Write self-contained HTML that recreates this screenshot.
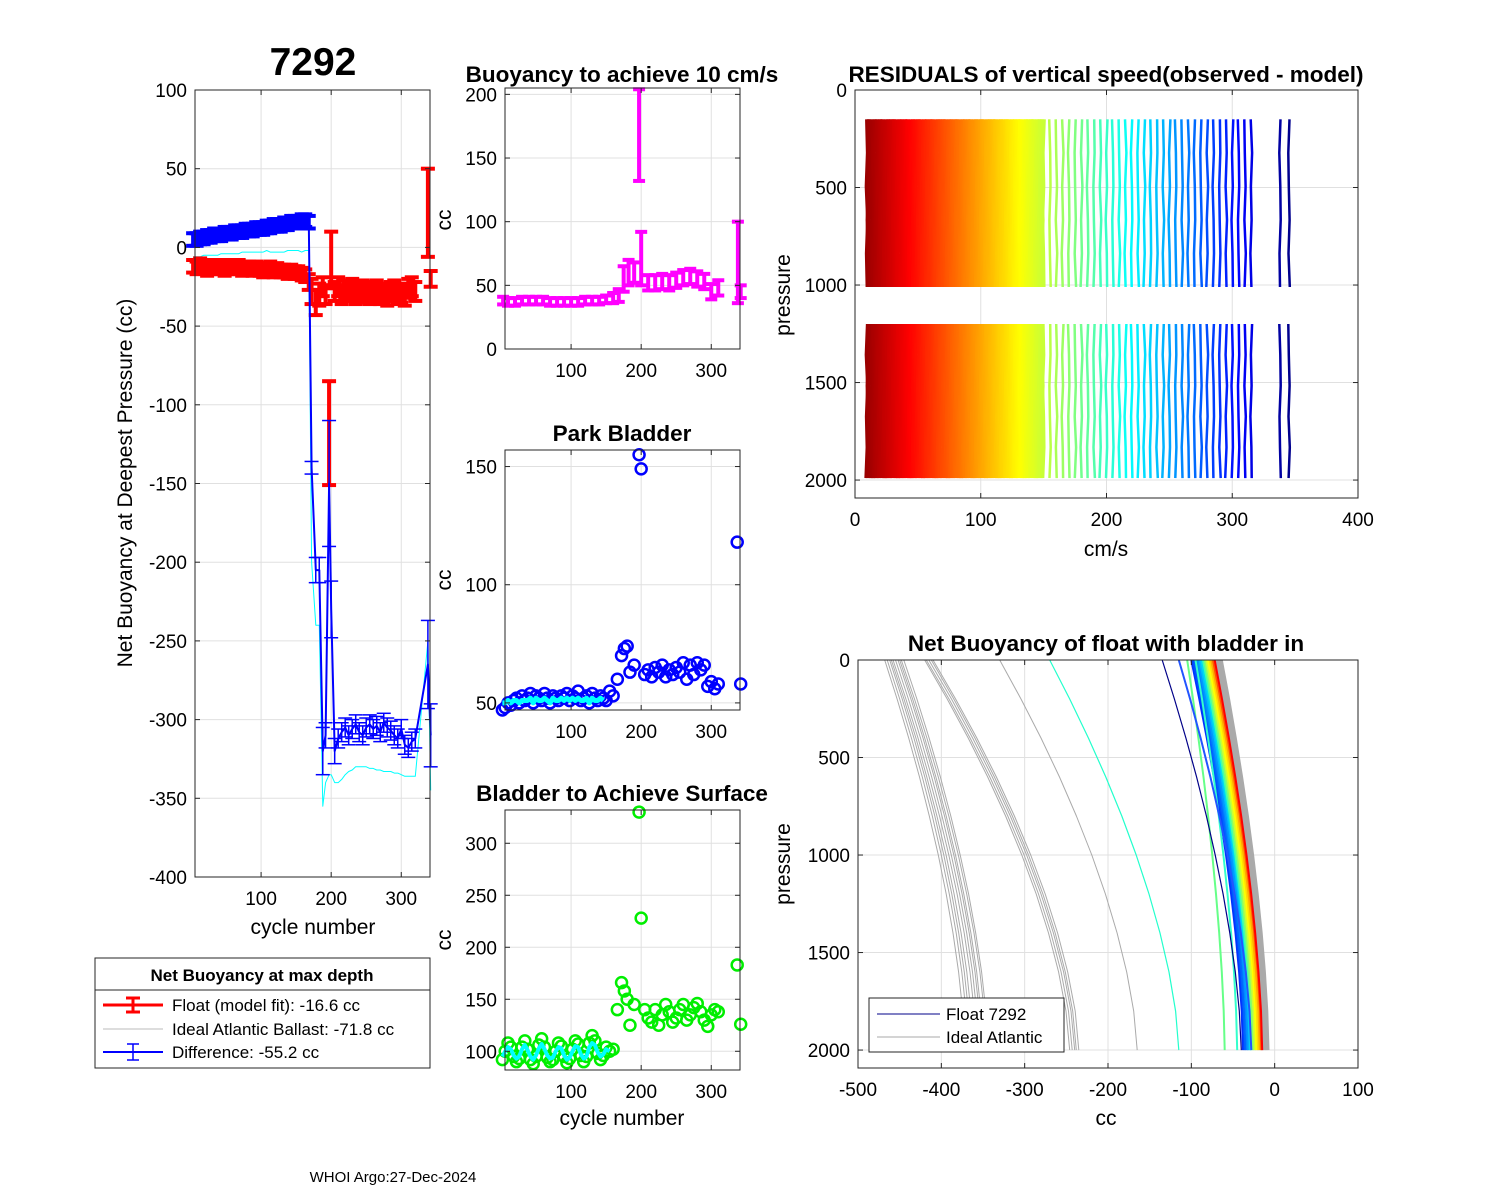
<!DOCTYPE html>
<html><head><meta charset="utf-8"><style>
body{margin:0;background:#fff;}
svg{display:block;font-family:"Liberation Sans",Arial,sans-serif;}
</style></head><body>
<svg id="s" width="1500" height="1200" viewBox="0 0 1500 1200" xmlns="http://www.w3.org/2000/svg"></svg>
<script>
// ---------- DATA ----------
const p1Cycles = [3,8,13,18,23,28,33,38,43,48,53,58,63,68,73,78,83,88,93,98,103,108,113,118,123,128,133,138,143,148,153,158,163,168,172,178,183,188,192,197,200,205,210,215,220,225,230,235,240,245,250,255,260,265,270,275,280,285,290,295,300,305,310,315,320,338,342];
const p1Float = [-12,-13,-11,-12,-14,-12,-13,-12,-13,-14,-12,-13,-13,-12,-14,-13,-13,-14,-13,-14,-15,-14,-13,-15,-14,-15,-15,-16,-15,-16,-16,-17,-18,-22,-28,-35,-30,-25,-30,-118,-8,-28,-25,-30,-27,-28,-26,-30,-28,-27,-29,-30,-28,-27,-30,-29,-31,-28,-27,-30,-29,-31,-26,-25,-28,22,-20];
const p1FloatErr = [4,4,4,4,4,4,4,4,4,4,4,4,4,4,4,4,4,4,4,4,4,4,4,4,4,4,4,4,4,4,4,4,4,5,8,8,7,6,6,33,18,6,6,6,6,6,6,6,6,6,6,6,6,6,6,6,6,6,6,6,6,6,6,6,6,28,5];
const p1Diff = [5,5,6,6,7,7,8,8,8,9,9,9,10,10,10,11,11,11,12,12,12,13,13,14,14,14,15,15,16,16,16,17,17,16,-140,-205,-205,-320,-310,-150,-230,-320,-312,-308,-305,-310,-306,-303,-308,-310,-305,-303,-306,-304,-308,-302,-305,-307,-310,-312,-306,-316,-318,-314,-312,-265,-310];
const p1DiffErr = [4,4,4,4,4,4,4,4,4,4,4,4,4,4,4,4,4,4,4,4,4,4,4,4,4,4,4,4,4,4,4,4,4,4,4,8,8,15,8,40,18,8,6,6,6,6,6,6,6,6,6,6,6,6,6,6,6,6,6,6,6,6,6,6,6,28,20];
const p1Ideal = [-6,-6,-6,-5,-5,-5,-5,-5,-4,-4,-4,-4,-4,-4,-3,-3,-3,-3,-3,-3,-3,-2,-3,-3,-3,-3,-3,-2,-2,-2,-2,-3,-2,-2,-200,-240,-240,-355,-340,-335,-335,-340,-340,-338,-335,-333,-332,-330,-330,-330,-330,-331,-331,-332,-332,-333,-333,-333,-334,-334,-335,-336,-336,-336,-336,-250,-345];
const p2Cycles = [3,10,20,30,40,50,60,70,80,90,100,110,120,130,140,150,160,168,175,182,190,197,200,210,220,230,240,250,260,270,280,290,300,310,338,342];
const p2Vals = [38,37,37,38,38,38,38,37,37,37,37,37,38,38,38,39,40,42,55,60,60,168,71,52,52,53,52,54,56,57,55,53,45,48,68,45];
const p2Err = [3,3,3,3,3,3,3,3,3,3,3,3,3,3,3,3,4,5,10,10,8,36,21,6,6,6,6,6,6,6,6,6,6,6,32,5];
const p3Cycles = [2,6,10,14,18,22,26,30,34,38,42,46,50,54,58,62,66,70,74,78,82,86,90,94,98,102,106,110,114,118,122,126,130,134,138,142,146,150,155,160,166,172,176,180,184,190,197,200,205,210,215,220,225,230,235,240,245,250,255,260,265,270,275,280,285,290,295,300,305,310,337,342];
const p3Vals = [47,48,50,49,51,52,50,53,51,52,54,50,53,52,51,54,52,50,53,52,51,53,52,54,51,53,52,55,51,52,53,50,54,52,51,53,52,51,55,53,60,70,73,74,63,66,155,149,62,64,61,65,63,66,61,64,62,65,63,67,60,66,62,67,64,66,57,59,56,58,118,58];
const p3Model = [50,50,51,50,51,51,50,51,51,51,52,50,52,51,51,52,51,50,52,51,51,52,51,52,51,52,51,52,51,51,52,50,52,51,51,52,51];
const p4Cycles = [2,6,10,14,18,22,26,30,34,38,42,46,50,54,58,62,66,70,74,78,82,86,90,94,98,102,106,110,114,118,122,126,130,134,138,142,146,150,155,160,166,172,176,180,184,190,197,200,205,210,215,220,225,230,235,240,245,250,255,260,265,270,275,280,285,290,295,300,305,310,337,342];
const p4Vals = [92,100,108,104,95,90,93,104,110,102,92,88,95,106,112,104,94,90,92,100,108,105,95,89,93,102,110,107,96,90,95,108,115,110,98,92,96,104,100,102,140,166,158,150,125,145,330,228,140,132,128,140,125,135,145,138,128,132,140,145,130,135,142,146,138,130,124,135,140,138,183,126];
const p4Model = [95,100,104,102,96,93,95,102,106,101,95,92,96,103,107,102,96,93,94,100,104,103,96,92,94,100,105,104,97,93,95,104,108,106,99,95,97,102,100];
const p5Sparse = [155,160,165,170,175,180,185,190,195,200,205,210,215,220,225,230,235,240,245,250,255,260,265,270,275,280,285,290,295,300,305,310,315,338,345];
const p6GrayTop = [-468,-465,-462,-460,-458,-455,-452,-450,-448,-445,-420,-418,-415,-412,-410,-330,-70,-68,-66,-64];
const p6GrayBot = [-372,-368,-365,-362,-358,-355,-352,-350,-346,-344,-246,-243,-240,-238,-235,-165,-14,-12,-10,-8];
const p6ColTop = [-100,-98,-96,-94,-92,-90,-88,-86,-84,-82,-80,-78,-76,-74,-72,-95,-105,-115];
const p6ColBot = [-38,-36,-35,-33,-32,-30,-29,-28,-26,-24,-22,-20,-18,-16,-15,-45,-60,-28];
const p6ColColor = ["#0033ff","#0050ff","#0066ff","#0080ff","#0099ff","#00bbff","#00ddee","#44ffaa","#88ff66","#ccff33","#ffff00","#ffdd00","#ffaa00","#ff5500","#ff0000","#33ffcc","#66ff88","#2255ff"];

// ---------- DRAW ----------
const S=document.getElementById('s');const NS='http://www.w3.org/2000/svg';
function el(t,a,p){const e=document.createElementNS(NS,t);for(const k in a)e.setAttribute(k,a[k]);(p||S).appendChild(e);return e;}
function txt(x,y,s,o){o=o||{};const e=el('text',{x:x,y:y,'font-size':o.fs||19,'text-anchor':o.a||'middle','font-weight':o.fw||'normal',fill:'#000'});if(o.rot)e.setAttribute('transform','rotate(-90 '+x+' '+y+')');e.textContent=s;return e;}
function axis(name,x0,x1,y0,y1,xd,yd,xt,yt,opt){
  opt=opt||{};
  const g=el('g',{});
  const X=v=>x0+(v-xd[0])/(xd[1]-xd[0])*(x1-x0);
  const Y=opt.rev? v=>y0+(v-yd[0])/(yd[1]-yd[0])*(y1-y0) : v=>y1-(v-yd[0])/(yd[1]-yd[0])*(y1-y0);
  el('rect',{x:x0,y:y0,width:x1-x0,height:y1-y0,fill:'#fff'},g);
  xt.forEach(t=>{const px=X(t);el('line',{x1:px,x2:px,y1:y0,y2:y1,stroke:'#e0e0e0','stroke-width':1},g);});
  yt.forEach(t=>{const py=Y(t);el('line',{x1:x0,x2:x1,y1:py,y2:py,stroke:'#e0e0e0','stroke-width':1},g);});
  const plot=el('g',{},g);
  const fr=el('g',{},g);
  el('rect',{x:x0,y:y0,width:x1-x0,height:y1-y0,fill:'none',stroke:'#262626','stroke-width':1},fr);
  xt.forEach(t=>{const px=X(t);el('line',{x1:px,x2:px,y1:y1,y2:y1-5,stroke:'#262626'},fr);el('line',{x1:px,x2:px,y1:y0,y2:y0+5,stroke:'#262626'},fr);const tt=txt(px,y1+28,String(t),{});fr.appendChild(tt);});
  yt.forEach(t=>{const py=Y(t);el('line',{x1:x0,x2:x0+5,y1:py,y2:py,stroke:'#262626'},fr);el('line',{x1:x1,x2:x1-5,y1:py,y2:py,stroke:'#262626'},fr);const tt=txt(x0-8,py+7,String(t),{a:'end'});fr.appendChild(tt);});
  return {X,Y,plot};
}
function poly(g,pts,c,w,name){const e=el('polyline',{points:pts.map(p=>p[0].toFixed(1)+','+p[1].toFixed(1)).join(' '),fill:'none',stroke:c,'stroke-width':w,'stroke-linejoin':'round'},g);return e;}
function ebar(g,x,y,yl,yh,c,w,cap){el('line',{x1:x,x2:x,y1:yl,y2:yh,stroke:c,'stroke-width':w},g);el('line',{x1:x-cap,x2:x+cap,y1:yl,y2:yl,stroke:c,'stroke-width':w},g);el('line',{x1:x-cap,x2:x+cap,y1:yh,y2:yh,stroke:c,'stroke-width':w},g);}

// Panel 1
let A=axis('net-buoyancy-panel',195,430,90,877,[5.7,341],[-400,100],[100,200,300],[-400,-350,-300,-250,-200,-150,-100,-50,0,50,100]);
{const g=A.plot;
 poly(g,p1Cycles.map((c,i)=>[A.X(c),A.Y(p1Ideal[i])]),'#00ffff',1,'ideal-atlantic-line');
 const gr=el('g',{},g);
 p1Cycles.forEach((c,i)=>ebar(gr,A.X(c),A.Y(p1Float[i]),A.Y(p1Float[i]-p1FloatErr[i]),A.Y(p1Float[i]+p1FloatErr[i]),'#ff0000',4,7));
 const gb=el('g',{},g);
 poly(gb,p1Cycles.map((c,i)=>[A.X(c),A.Y(p1Diff[i])]),'#0000ff',2,'difference-line');
 p1Cycles.forEach((c,i)=>ebar(gb,A.X(c),A.Y(p1Diff[i]),A.Y(p1Diff[i]-p1DiffErr[i]),A.Y(p1Diff[i]+p1DiffErr[i]),'#0000ff',c<170?4:1.5,7));
}
txt(313,75,'7292',{fs:39,fw:'bold'});
txt(313,934,'cycle number',{fs:21});
txt(132,483,'Net Buoyancy at Deepest Pressure (cc)',{fs:21,rot:1});
{const g=el('g',{});
 el('rect',{x:95,y:958,width:335,height:110,fill:'#fff',stroke:'#262626'},g);
 el('line',{x1:95,x2:430,y1:990,y2:990,stroke:'#262626'},g);
 g.appendChild(txt(262,981,'Net Buoyancy at max depth',{fs:17,fw:'bold'}));
 el('line',{x1:103,x2:163,y1:1005,y2:1005,stroke:'#f00','stroke-width':3},g);ebar(g,133,1005,998,1012,'#f00',3,7);
 g.appendChild(txt(172,1011,'Float (model fit): -16.6 cc',{fs:17,a:'start'}));
 el('line',{x1:103,x2:163,y1:1029,y2:1029,stroke:'#bbb','stroke-width':1},g);
 g.appendChild(txt(172,1035,'Ideal Atlantic Ballast: -71.8 cc',{fs:17,a:'start'}));
 el('line',{x1:103,x2:163,y1:1052,y2:1052,stroke:'#00f','stroke-width':2},g);ebar(g,133,1052,1044,1060,'#00f',1.5,6);
 g.appendChild(txt(172,1058,'Difference: -55.2 cc',{fs:17,a:'start'}));}

// Panel 2
A=axis('buoyancy-10cms-panel',505,740,88,349,[5.7,341],[0,205],[100,200,300],[0,50,100,150,200]);
{const g=A.plot;const gg=el('g',{},g);
 p2Cycles.forEach((c,i)=>ebar(gg,A.X(c),A.Y(p2Vals[i]),A.Y(p2Vals[i]-p2Err[i]),A.Y(Math.min(p2Vals[i]+p2Err[i],205)),'#ff00ff',4,6));}
txt(622,82,'Buoyancy to achieve 10 cm/s',{fs:22.5,fw:'bold'});
txt(451,220,'cc',{fs:21,rot:1});

// Panel 3
A=axis('park-bladder-panel',505,740,450,710,[5.7,341],[47,157],[100,200,300],[50,100,150]);
{const g=A.plot;
 p3Cycles.forEach((c,i)=>{const e=el('circle',{cx:A.X(c),cy:A.Y(p3Vals[i]),r:5.5,fill:'none',stroke:'#0000ff','stroke-width':2.5},g);});
 poly(g,p3Model.map((v,i)=>[A.X(p3Cycles[i]),A.Y(v)]),'#00ffff',5,'park-bladder-model-line');}
txt(622,441,'Park Bladder',{fs:22.5,fw:'bold'});
txt(451,580,'cc',{fs:21,rot:1});

// Panel 4
A=axis('surface-bladder-panel',505,740,810,1070,[5.7,341],[82,332],[100,200,300],[100,150,200,250,300]);
{const g=A.plot;
 p4Cycles.forEach((c,i)=>{const e=el('circle',{cx:A.X(c),cy:A.Y(p4Vals[i]),r:5.5,fill:'none',stroke:'#00ee00','stroke-width':2.5},g);});
 poly(g,p4Model.map((v,i)=>[A.X(p4Cycles[i]),A.Y(v)]),'#00ffff',4,'surface-bladder-model-line');}
txt(622,801,'Bladder to Achieve Surface',{fs:22.5,fw:'bold'});
txt(622,1125,'cycle number',{fs:21});
txt(451,940,'cc',{fs:21,rot:1});

function jet(t){t=Math.max(0,Math.min(1,t));const r=Math.max(0,Math.min(1,1.5-Math.abs(4*t-3))),g=Math.max(0,Math.min(1,1.5-Math.abs(4*t-2))),b=Math.max(0,Math.min(1,1.5-Math.abs(4*t-1)));return 'rgb('+Math.round(r*255)+','+Math.round(g*255)+','+Math.round(b*255)+')';}
const wig=[0,0.6,-0.3,0.8,-0.2,0.4,-0.6,0.2,0.5,-0.4];
// Panel 5
A=axis('residuals-panel',855,1358,90,498,[0,400],[0,2092],[0,100,200,300,400],[0,500,1000,1500,2000],{rev:1});
{const g=A.plot;const cols=[];for(let c=9;c<=150;c++)cols.push(c);const all=cols.concat(p5Sparse);
 all.forEach((c,k)=>{const col=jet(1-c/350);
  [[150,1010],[1200,1990]].forEach((seg,s)=>{const pts=[];for(let j=0;j<=5;j++){const p=seg[0]+(seg[1]-seg[0])*j/5;pts.push([A.X(c+wig[(j+k*3+s)%10]),A.Y(p)]);}
   poly(g,pts,col,2.5,'residual-profile');});});}
txt(1106,82,'RESIDUALS of vertical speed(observed - model)',{fs:22.5,fw:'bold'});
txt(1106,556,'cm/s',{fs:21});
txt(790,295,'pressure',{fs:21,rot:1});

// Panel 6
A=axis('net-buoyancy-bladder-in-panel',858,1358,660,1068,[-500,100],[0,2092],[-500,-400,-300,-200,-100,0,100],[0,500,1000,1500,2000],{rev:1});
{const g=A.plot;
 function prof(t,b,c,w){const pts=[];for(let j=0;j<=10;j++){const f=j/10;const v=t+(b-t)*(1-Math.pow(1-f,1.6));pts.push([A.X(v),A.Y(2000*f)]);}poly(g,pts,c,w,'buoyancy-profile');}
 p6GrayTop.forEach((t,i)=>prof(t,p6GrayBot[i],'#aaaaaa',i>=16?3:1));
 p6ColTop.forEach((t,i)=>prof(t,p6ColBot[i],p6ColColor[i],2));
 prof(-270,-115,'#22ffcc',1.2);prof(-135,-40,'#000088',1.2);
 const lg=el('g',{});
 el('rect',{x:869,y:998,width:195,height:54,fill:'#fff',stroke:'#262626'},lg);
 el('line',{x1:877,x2:940,y1:1014,y2:1014,stroke:'#000088','stroke-width':1},lg);
 el('line',{x1:877,x2:940,y1:1037,y2:1037,stroke:'#aaa','stroke-width':1},lg);
 lg.appendChild(txt(946,1020,'Float 7292',{fs:17,a:'start'}));
 lg.appendChild(txt(946,1043,'Ideal Atlantic',{fs:17,a:'start'}));}
txt(1106,651,'Net Buoyancy of float with bladder in',{fs:22.5,fw:'bold'});
txt(1106,1125,'cc',{fs:21});
txt(790,864,'pressure',{fs:21,rot:1});
txt(393,1182,'WHOI Argo:27-Dec-2024',{fs:15});
</script>
</body></html>
